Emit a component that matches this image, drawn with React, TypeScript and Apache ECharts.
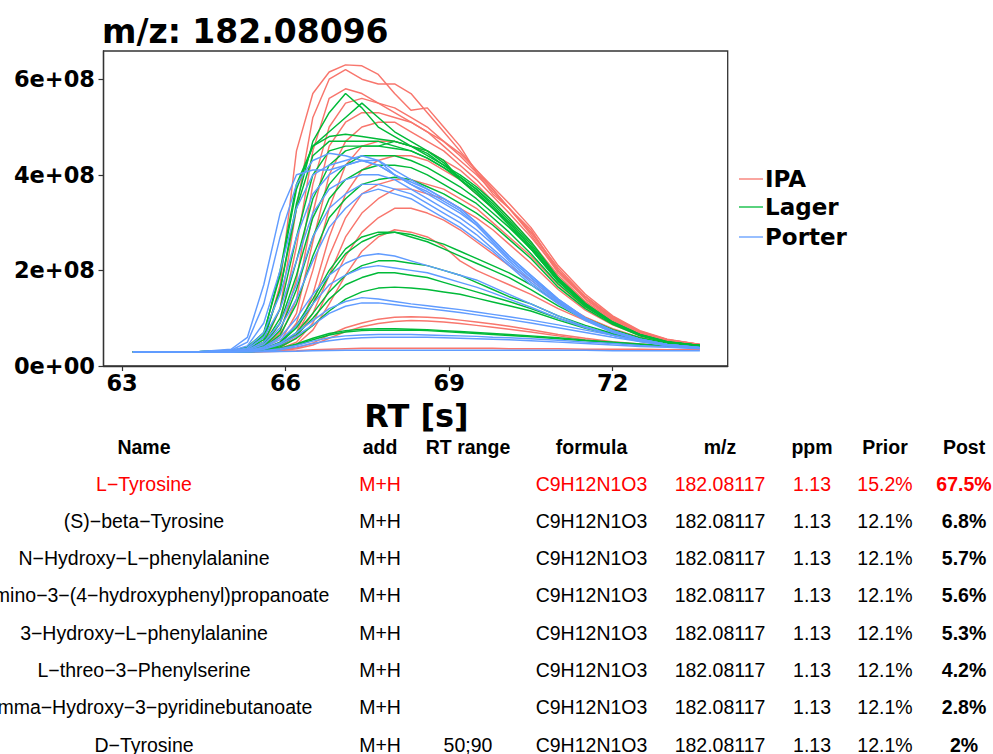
import { useEffect, useRef } from "react";
import * as echarts from "echarts";

// ---------------- DATA ----------------
const rtGrid = [63.2, 64.4, 65.0, 65.3, 65.6, 65.9, 66.2, 66.5, 66.8, 67.1, 67.4, 67.7, 68.0, 68.3, 68.6, 68.9, 69.2, 69.5, 69.8, 70.1, 70.5, 71.0, 71.5, 72.0, 72.5, 73.0, 73.6];

// intensities in units of 1e7
const ipaSamples = [
  [3,3,3.1,3.5,5,17,45,57,61.5,63,62.8,61,57,53.5,54,50,46,40.5,36,33,28.5,20,14.5,10,7.2,5.5,4.5],
  [3,3,3.1,3.4,4.5,12,33,52,60,62,60,59,59,57,53,49,45,41,37,33,27.5,19.5,14,9.8,7,5.4,4.4],
  [3,3,3,3.3,4,9,25,45,56,58,57,55,54,52,50,47,44,40.5,37,33,28,20,14.5,10,7.2,5.5,4.5],
  [3,3,3,3.2,3.8,7,18,38,50,55,56,55,53,51,49,47,44.5,41,37.5,34,29,21,15,10.5,7.4,5.6,4.5],
  [3,3,3,3.2,3.6,6,14,32,46,51,53,53,52,51,49,46,43,40,36.5,33,28,20.5,14.5,10.3,7.3,5.5,4.5],
  [3,3,3,3.2,3.5,5,11,26,40,47,50,51,51,49,47,45,42,39,35.5,32,27,20,14,10,7.2,5.4,4.4],
  [3,3,3,3.1,3.4,4.5,9,20,33,42,46,47,47,46,45,43,41,38,34.5,31,26,19,13.5,9.6,7,5.3,4.3],
  [3,3,3,3.1,3.3,4,7,15,27,36,41,43,44,44,43,41,39,36,33,30,25,18.5,13.2,9.4,6.9,5.2,4.3],
  [3,3,3,3.1,3.3,4,6.5,13,23,31,36,38,39,39,38,37,35,33,30,27,23,17,12.3,9,6.6,5.1,4.2],
  [3,3,3,3.1,3.2,3.8,6,11,19,27,32,35,37,37,36,35,33,31,28.5,25.5,21.5,16,11.7,8.6,6.4,5,4.2],
  [3,3,3,3,3.2,3.6,5,9,16,23,28,31,33,33,32,30.5,28.5,26,23.5,21,18,13.5,10.2,7.8,6,4.8,4.1],
  [3,3,3,3,3.1,3.4,4.5,7.5,13,19,24,27,28.5,28,27,25,22,20,18.5,17,15,12,9.5,7.5,5.8,4.7,4],
  [3,3,3,3,3.1,3.3,3.8,4.8,6.5,8,9,9.8,10.2,10.3,10.2,10,9.6,9.2,8.8,8.3,7.6,6.6,5.8,5.1,4.6,4.2,3.9],
  [3,3,3,3,3.1,3.2,3.6,4.4,5.8,7.2,8.2,8.9,9.3,9.5,9.4,9.2,8.9,8.5,8.1,7.7,7.1,6.3,5.5,4.9,4.4,4.1,3.8],
  [3,3,3,3,3,3.1,3.2,3.4,3.5,3.6,3.7,3.7,3.7,3.7,3.7,3.7,3.7,3.7,3.7,3.6,3.6,3.6,3.5,3.5,3.5,3.4,3.4],
];

const lagerSamples = [
  [3,3,3.2,3.8,6,16,34,47,53,57,54,50,48,46,45,43,39,36.5,33,30,25,18,12.8,9,6.5,5,4.3],
  [3,3,3.2,4,7,19,37,46,49,52,55,52,49,47,45,42.5,39,36,33,29.5,24.5,17.8,12.7,9,6.5,5,4.3],
  [3,3,3.1,3.6,6.5,20,38,46,48,48.5,48,47.5,47,46,44.5,42,39.5,37,33.5,30,25,18,12.8,9,6.5,5,4.3],
  [3,3,3.1,3.5,5.5,16,33,44,47,47,47,47,46,45,43.5,41.5,39,36.5,33,29.5,24.5,17.8,12.7,9,6.5,5,4.3],
  [3,3,3.1,3.4,5,12,27,40,45,46,46,46,45.5,45,43.5,41.5,39.5,37,34,30.5,25.5,18.3,13,9.2,6.6,5.1,4.3],
  [3,3,3,3.3,4.5,10,22,35,42,45,46,46,47,46,44,42,40,37.5,34.5,31,26,18.5,13.1,9.2,6.6,5.1,4.3],
  [3,3,3,3.3,4.3,9,19,31,38,42,44,44,44,43,41.5,39.5,37.5,35,32,29,24.5,17.7,12.6,9,6.5,5,4.3],
  [3,3,3,3.2,4,7.5,16,27,35,39,41,42,42,41.5,40,38,36,34,31,28,23.5,17.2,12.4,8.9,6.4,5,4.2],
  [3,3,3,3.2,3.8,6.5,13,23,31,35,38,39,39.5,39,37.5,36,34,32,29.5,26.5,22.5,16.5,12,8.7,6.3,4.9,4.2],
  [3,3,3,3.1,3.6,5,8.5,14,20,24.5,27,28,28,27.5,26.5,25.5,24,22.5,21,19.5,17,13.2,10,7.6,5.9,4.7,4.1],
  [3,3,3,3.1,3.5,4.8,8,13,19,23.5,26,27.5,28,27,26,24.5,23,21.5,20,18.5,16,12.6,9.7,7.4,5.8,4.7,4.1],
  [3,3,3,3.1,3.4,4.5,7,11,15.5,19,21,22,22,21.5,21,20,19,17.5,16,14.5,13,10.5,8.5,6.8,5.5,4.6,4.1],
  [3,3,3,3.1,3.4,4.3,6.5,10,14,17,18.5,19.5,19.5,19,18.5,17.5,16.5,15.5,14.5,13.5,12,10,8.1,6.6,5.4,4.5,4],
  [3,3,3,3,3.3,4,5.8,8.5,11.5,14,15.5,16.3,16.5,16.3,16,15.5,15,14.2,13.4,12.6,11.5,9.6,7.9,6.5,5.3,4.5,4],
  [3,3,3,3,3.2,3.7,4.6,5.8,6.8,7.4,7.7,7.8,7.8,7.7,7.6,7.4,7.2,7,6.8,6.6,6.3,5.9,5.4,5,4.6,4.2,3.9],
  [3,3,3,3,3.1,3.6,4.4,5.5,6.5,7.1,7.4,7.5,7.5,7.5,7.4,7.2,7,6.8,6.6,6.4,6.1,5.7,5.3,4.9,4.5,4.2,3.9],
];

const porterSamples = [
  [3,3,3.5,6,17,32,40,41,41,42,43,43,40,38.5,37,35,33,30,26.5,23,19,14,10,7.4,5.6,4.5,3.8],
  [3,3,3.3,5,13,27,38,43,44.5,44,43,42,40,38,36.5,34.5,32.5,29.5,26,22.5,18.5,13.8,9.9,7.3,5.6,4.5,3.8],
  [3,3,3.2,4.2,9,20,33,40,42,43,44,43,41,39,37,35,33,30,26.5,23,19,14,10,7.4,5.6,4.5,3.8],
  [3,3,3.1,3.8,7,15,27,36,40,42,43,42,40,38,36,34,32,29.5,26,22.5,18.5,13.8,9.9,7.3,5.6,4.5,3.8],
  [3,3,3.1,3.6,6,12,22,32,37,39,40,40,39,37,35,33,31,28.5,25.5,22,18,13.5,9.8,7.2,5.5,4.4,3.7],
  [3,3,3,3.4,5,9,17,27,33,36,38,38,37,36,34,32,30,27.5,24.5,21.5,17.5,13.2,9.6,7.1,5.5,4.4,3.7],
  [3,3,3,3.3,4.5,8,14,22,29,33,36,37,36,35,33,31,29,26.5,24,21,17,13,9.5,7,5.4,4.4,3.7],
  [3,3,3,3.2,4,6,10,15,19,21.5,23,23.5,23,22,21,20,19,18,16.5,15,13,10.5,8.2,6.5,5.2,4.3,3.7],
  [3,3,3,3.2,3.8,5.5,8.5,13,17,19,20.5,21,20.5,20,19.5,18.5,17.5,16.5,15.3,14,12.3,10,8,6.4,5.1,4.3,3.7],
  [3,3,3,3.1,3.6,4.8,7,9.5,12,13.5,14.3,14,13.5,13,12.6,12.2,11.8,11.3,10.8,10.3,9.6,8.6,7.5,6.4,5.4,4.5,3.9],
  [3,3,3,3.1,3.5,4.5,6.3,8.6,11,12.5,13.2,13.2,12.8,12.4,12,11.6,11.2,10.7,10.2,9.7,9,8,7,6,5.1,4.3,3.8],
  [3,3,3,3,3.2,3.6,4.3,5.2,5.9,6.3,6.5,6.6,6.6,6.6,6.5,6.4,6.3,6.2,6,5.9,5.7,5.4,5,4.7,4.3,4,3.7],
  [3,3,3,3,3.1,3.4,4,4.7,5.3,5.7,5.9,6,6,6,6,5.9,5.8,5.7,5.6,5.5,5.3,5,4.7,4.4,4.1,3.9,3.6],
  [3,3,3,3,3,3.05,3.1,3.2,3.25,3.3,3.3,3.3,3.3,3.3,3.3,3.3,3.3,3.3,3.3,3.3,3.3,3.3,3.3,3.2,3.2,3.2,3.2],
];

const groupNames = ["IPA", "Lager", "Porter"];
const groupSamples = [ipaSamples, lagerSamples, porterSamples];

const xTickValues = [63, 66, 69, 72];
const yTickValues = [0, 2e8, 4e8, 6e8];
const yTickLabels = ["0e+00", "2e+08", "4e+08", "6e+08"];

const chartTitle = "m/z: 182.08096";
const xAxisTitle = "RT [s]";

const tableHeader = ["Name", "add", "RT range", "formula", "m/z", "ppm", "Prior", "Post"];
const candNames = [
  "L\u2212Tyrosine",
  "(S)\u2212beta\u2212Tyrosine",
  "N\u2212Hydroxy\u2212L\u2212phenylalanine",
  "2\u2212Amino\u22123\u2212(4\u2212hydroxyphenyl)propanoate",
  "3\u2212Hydroxy\u2212L\u2212phenylalanine",
  "L\u2212threo\u22123\u2212Phenylserine",
  "gamma\u2212Hydroxy\u22123\u2212pyridinebutanoate",
  "D\u2212Tyrosine",
];
const candAdducts = ["M+H", "M+H", "M+H", "M+H", "M+H", "M+H", "M+H", "M+H"];
const candRtRange = ["", "", "", "", "", "", "", "50;90"];
const candFormula = ["C9H12N1O3", "C9H12N1O3", "C9H12N1O3", "C9H12N1O3", "C9H12N1O3", "C9H12N1O3", "C9H12N1O3", "C9H12N1O3"];
const candMz = ["182.08117", "182.08117", "182.08117", "182.08117", "182.08117", "182.08117", "182.08117", "182.08117"];
const candPpm = ["1.13", "1.13", "1.13", "1.13", "1.13", "1.13", "1.13", "1.13"];
const candPrior = ["15.2%", "12.1%", "12.1%", "12.1%", "12.1%", "12.1%", "12.1%", "12.1%"];
const candPost = ["67.5%", "6.8%", "5.7%", "5.6%", "5.3%", "4.2%", "2.8%", "2%"];
const highlightRow = 0;

// ---------------- STYLE / LAYOUT ----------------
const groupColors = ["#F8766D", "#00BA38", "#619CFF"];
const axisFont = "DejaVu Sans";
const tableFont = "Liberation Sans";
const colX = [144, 380, 468, 591.5, 720, 812, 885, 964];
const headerY = 446.7;
const rowY0 = 483.5;
const rowStep = 37.3;
const legendY = [179, 207, 237];

export default function App() {
  const ref = useRef<HTMLDivElement>(null);

  useEffect(() => {
    if (!ref.current) return;
    const chart = echarts.init(ref.current, undefined, { renderer: "svg" });

    const series: any[] = [];
    groupSamples.forEach((samples, g) => {
      samples.forEach((s, k) => {
        series.push({
          type: "line",
          name: groupNames[g] + " " + (k + 1),
          data: rtGrid.map((rt, i) => [rt, s[i] * 1e7]),
          showSymbol: false,
          symbol: "none",
          silent: true,
          clip: true,
          lineStyle: { width: 1.45, color: groupColors[g] },
          itemStyle: { color: groupColors[g] },
          z: 2 + g,
        });
      });
    });

    const graphic: any[] = [];
    const txt = (text: string, x: number, y: number, o: any) => ({
      type: "text",
      x,
      y,
      silent: true,
      style: {
        text,
        fill: o.fill || "#000",
        fontSize: o.size,
        fontWeight: o.weight || "normal",
        fontFamily: o.family,
        textAlign: o.align || "center",
        textVerticalAlign: "middle",
        align: o.align || "center",
        verticalAlign: "middle",
      },
    });

    graphic.push(txt(chartTitle, 102, 31, { size: 33, weight: "bold", family: axisFont, align: "left" }));
    graphic.push(txt(xAxisTitle, 416.5, 416, { size: 32, weight: "bold", family: axisFont }));

    groupNames.forEach((n, g) => {
      graphic.push({
        type: "line",
        silent: true,
        shape: { x1: 739, y1: legendY[g], x2: 763, y2: legendY[g] },
        style: { stroke: groupColors[g], lineWidth: 1.3 },
      });
      graphic.push(txt(n, 765, legendY[g], { size: 23, weight: "bold", family: axisFont, align: "left" }));
    });

    tableHeader.forEach((h, c) => {
      graphic.push(txt(h, colX[c], headerY, { size: 19.5, weight: "bold", family: tableFont }));
    });
    candNames.forEach((_, r) => {
      const y = rowY0 + r * rowStep;
      const fill = r === highlightRow ? "#FF0000" : "#000";
      const cells = [candNames[r], candAdducts[r], candRtRange[r], candFormula[r], candMz[r], candPpm[r], candPrior[r], candPost[r]];
      cells.forEach((v, c) => {
        if (!v) return;
        graphic.push(txt(v, colX[c], y, { size: 19.5, weight: c === 7 ? "bold" : "normal", family: tableFont, fill }));
      });
    });

    chart.setOption({
      animation: false,
      backgroundColor: "#fff",
      grid: {
        left: 103.5,
        top: 51,
        width: 624.2,
        height: 315,
        show: true,
        borderColor: "#333",
        borderWidth: 1.3,
        backgroundColor: "transparent",
      },
      xAxis: {
        type: "value",
        min: 62.66,
        max: 74.11,
        splitLine: { show: false },
        axisLine: { show: true, lineStyle: { color: "#333", width: 1.3 } },
        axisTick: { show: true, length: 5, customValues: xTickValues, lineStyle: { color: "#333", width: 1.2 } },
        axisLabel: {
          customValues: xTickValues,
          margin: 5.5,
          fontSize: 22.5,
          fontWeight: "bold",
          fontFamily: axisFont,
          color: "#000",
          formatter: (v: number) => String(v),
        },
      },
      yAxis: {
        type: "value",
        min: 0,
        max: 6.59e8,
        splitLine: { show: false },
        axisLine: { show: true, lineStyle: { color: "#333", width: 1.3 } },
        axisTick: { show: true, length: 5, customValues: yTickValues, lineStyle: { color: "#333", width: 1.2 } },
        axisLabel: {
          customValues: yTickValues,
          margin: 8.5,
          fontSize: 22.5,
          fontWeight: "bold",
          fontFamily: axisFont,
          color: "#000",
          showMinLabel: true,
          formatter: (v: number) => {
            const i = yTickValues.findIndex((t) => Math.abs(t - v) < 1);
            return i >= 0 ? yTickLabels[i] : "";
          },
        },
      },
      series,
      graphic,
    });

    return () => chart.dispose();
  }, []);

  return (
    <div
      ref={ref}
      style={{ position: "fixed", left: 0, top: 0, width: 993, height: 754, background: "#fff" }}
    />
  );
}
